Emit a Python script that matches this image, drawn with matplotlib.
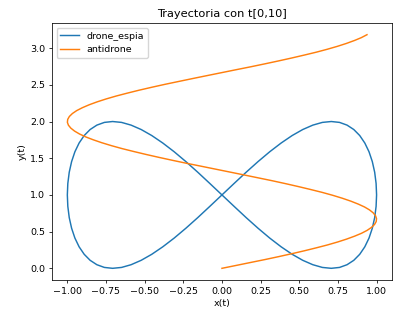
import matplotlib
matplotlib.use("Agg")
import matplotlib.pyplot as plt

# drone_espia: figure-eight path
espia_x = [0.0, 0.0785, 0.1564, 0.2334, 0.3090, 0.3827, 0.4540, 0.5225, 0.5878, 0.6494, 0.7071,
           0.7604, 0.8090, 0.8526, 0.8910, 0.9239, 0.9511, 0.9724, 0.9877, 0.9969, 1.0,
           0.9969, 0.9877, 0.9724, 0.9511, 0.9239, 0.8910, 0.8526, 0.8090, 0.7604, 0.7071,
           0.6494, 0.5878, 0.5225, 0.4540, 0.3827, 0.3090, 0.2334, 0.1564, 0.0785, 0.0,
           -0.0785, -0.1564, -0.2334, -0.3090, -0.3827, -0.4540, -0.5225, -0.5878, -0.6494, -0.7071,
           -0.7604, -0.8090, -0.8526, -0.8910, -0.9239, -0.9511, -0.9724, -0.9877, -0.9969, -1.0,
           -0.9969, -0.9877, -0.9724, -0.9511, -0.9239, -0.8910, -0.8526, -0.8090, -0.7604, -0.7071,
           -0.6494, -0.5878, -0.5225, -0.4540, -0.3827, -0.3090, -0.2334, -0.1564, -0.0785, 0.0]
espia_y = [1.0, 1.156, 1.309, 1.454, 1.588, 1.707, 1.809, 1.891, 1.951, 1.988, 2.0,
           1.988, 1.951, 1.891, 1.809, 1.707, 1.588, 1.454, 1.309, 1.156, 1.0,
           0.844, 0.691, 0.546, 0.412, 0.293, 0.191, 0.109, 0.049, 0.012, 0.0,
           0.012, 0.049, 0.109, 0.191, 0.293, 0.412, 0.546, 0.691, 0.844, 1.0,
           1.156, 1.309, 1.454, 1.588, 1.707, 1.809, 1.891, 1.951, 1.988, 2.0,
           1.988, 1.951, 1.891, 1.809, 1.707, 1.588, 1.454, 1.309, 1.156, 1.0,
           0.844, 0.691, 0.546, 0.412, 0.293, 0.191, 0.109, 0.049, 0.012, 0.0,
           0.012, 0.049, 0.109, 0.191, 0.293, 0.412, 0.546, 0.691, 0.844, 1.0]

# antidrone path
anti_x = [0.0, 0.0936, 0.1864, 0.2775, 0.3663, 0.4518, 0.5333, 0.6101, 0.6816, 0.7472,
          0.8061, 0.8580, 0.9023, 0.9388, 0.9669, 0.9866, 0.9975, 0.9997, 0.9932, 0.9779,
          0.9541, 0.9218, 0.8815, 0.8335, 0.7781, 0.7159, 0.6473, 0.5730, 0.4935, 0.4103,
          0.3233, 0.2332, 0.1411, 0.0478, -0.0459, -0.1392, -0.2313, -0.3213, -0.4086, -0.4923,
          -0.5716, -0.6459, -0.7146, -0.7770, -0.8323, -0.8806, -0.9212, -0.9535, -0.9775, -0.9930,
          -0.9997, -0.9976, -0.9868, -0.9673, -0.9393, -0.9031, -0.8589, -0.8072, -0.7484, -0.6830,
          -0.6117, -0.5355, -0.4535, -0.3679, -0.2794, -0.1883, -0.0955, -0.0019, 0.0917, 0.1845,
          0.2757, 0.3645, 0.4501, 0.5317, 0.6087, 0.6801, 0.7459, 0.8049, 0.8570, 0.9015, 0.9380]
anti_y = [0.000, 0.040, 0.080, 0.119, 0.159, 0.199, 0.239, 0.279, 0.318, 0.358,
          0.398, 0.438, 0.477, 0.517, 0.557, 0.597, 0.637, 0.676, 0.716, 0.756,
          0.796, 0.836, 0.875, 0.915, 0.955, 0.995, 1.035, 1.074, 1.114, 1.154,
          1.194, 1.233, 1.273, 1.313, 1.353, 1.393, 1.432, 1.472, 1.512, 1.552,
          1.592, 1.631, 1.671, 1.711, 1.751, 1.790, 1.830, 1.870, 1.910, 1.950,
          1.989, 2.029, 2.069, 2.109, 2.149, 2.188, 2.228, 2.268, 2.308, 2.348,
          2.387, 2.427, 2.467, 2.507, 2.546, 2.586, 2.626, 2.666, 2.706, 2.745,
          2.785, 2.825, 2.865, 2.905, 2.944, 2.984, 3.024, 3.064, 3.104, 3.143, 3.183]

fig = plt.figure(figsize=(3.96, 3.11), dpi=100)
ax = fig.add_subplot(111)
fig.subplots_adjust(left=0.131, right=0.99, bottom=0.0997, top=0.926)

ax.plot(espia_x, espia_y, lw=1.05, label="drone_espia")
ax.plot(anti_x, anti_y, lw=1.05, label="antidrone")

ax.set_title("Trayectoria con t[0,10]", fontsize=8.2, pad=4)
ax.set_xlabel("x(t)", fontsize=6.8, labelpad=2.5)
ax.set_ylabel("y(t)", fontsize=6.8, labelpad=2.5)
ax.tick_params(labelsize=6.8, width=0.55, length=2.4, pad=2.4)
for s in ax.spines.values():
    s.set_linewidth(0.55)
ax.legend(loc="upper left", fontsize=6.8)

plt.savefig("out.png", dpi=100)
plt.close()
